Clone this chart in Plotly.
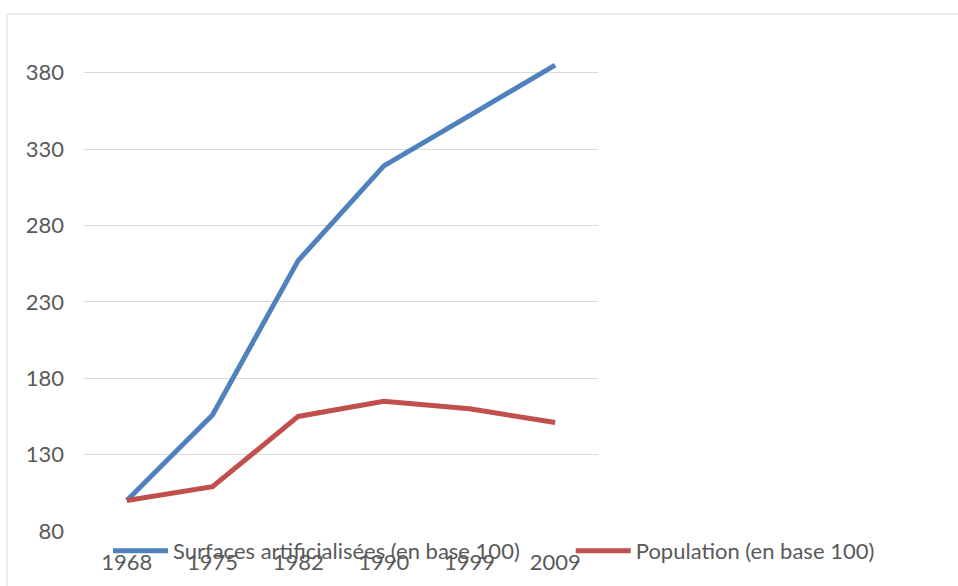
import plotly.graph_objects as go

years = ["1968", "1975", "1982", "1990", "1999", "2009"]
surfaces = [100, 156, 257, 319, 352, 385]
population = [100, 109, 155, 165, 160, 151]
y_ticks = [80, 130, 180, 230, 280, 330, 380]

font_family = "Lato, Liberation Sans, Arial, sans-serif"
grey = "#595959"
fsize = 22

fig = go.Figure()
fig.add_trace(go.Scatter(x=years, y=surfaces, mode="lines",
                         name="Surfaces artificialisées (en base 100)",
                         line=dict(color="#4F81BD", width=5), legend="legend"))
fig.add_trace(go.Scatter(x=years, y=population, mode="lines",
                         name="Population (en base 100)",
                         line=dict(color="#C0504D", width=5), legend="legend2"))

leg_common = dict(orientation="h", yanchor="middle", xanchor="left", itemwidth=55,
                  bgcolor="rgba(0,0,0,0)", font=dict(size=fsize, color=grey, family=font_family))

fig.update_layout(
    width=958, height=586,
    margin=dict(l=84, r=360, t=30, b=55, autoexpand=False),
    paper_bgcolor="white", plot_bgcolor="white",
    font=dict(family=font_family, size=fsize, color=grey),
    showlegend=True,
    legend=dict(x=0.0467, y=-0.04, **leg_common),
    legend2=dict(x=0.947, y=-0.04, **leg_common),
    xaxis=dict(type="category", showgrid=False, showline=False, zeroline=False,
               ticks="", ticklabelstandoff=16, tickfont=dict(size=fsize, color=grey),
               range=[-0.5, 5.5]),
    yaxis=dict(range=[80, 408], tickvals=y_ticks, showgrid=True, gridcolor="#D9D9D9",
               gridwidth=1, zeroline=False, showline=False, ticks="",
               ticklabelstandoff=19, tickfont=dict(size=fsize, color=grey)),
    shapes=[dict(type="rect", xref="paper", yref="paper", x0=-0.150, x1=2.0,
                 y0=-0.3, y1=1.032, line=dict(color="#D9D9D9", width=1),
                 fillcolor="rgba(0,0,0,0)", layer="below")],
)

fig.write_html("out.html", config={"displayModeBar": False},
               post_script="document.body.style.margin='0px';")
